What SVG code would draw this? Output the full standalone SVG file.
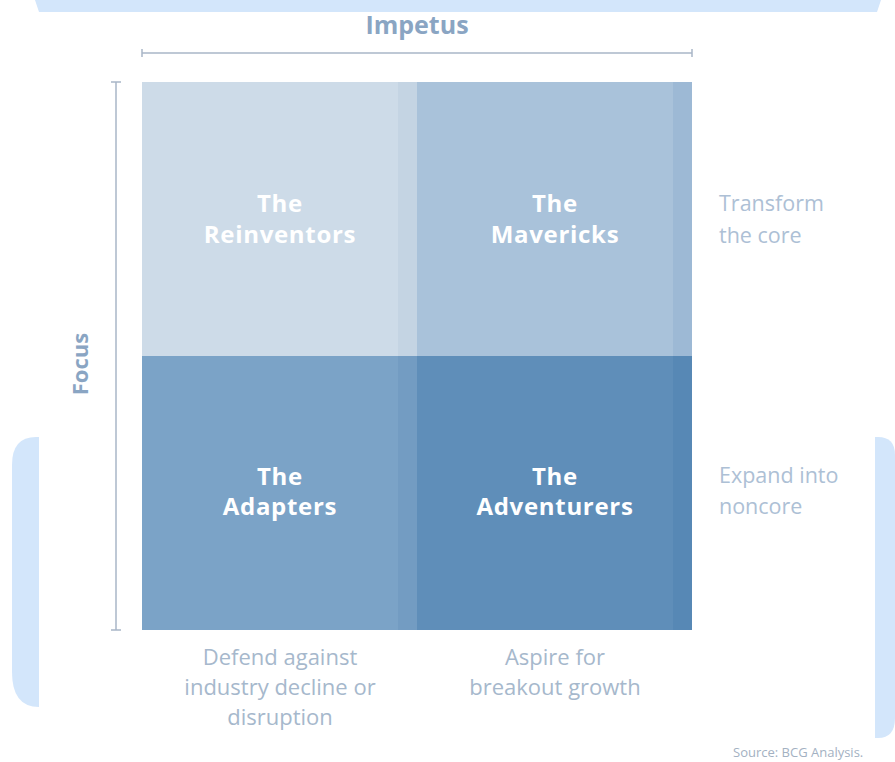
<svg xmlns="http://www.w3.org/2000/svg" width="895" height="762" viewBox="0 0 895 762">
  <style>
    .frame { fill: #d3e6fb; }
    .axis { stroke: #a9b6c7; stroke-width: 1.5; fill: none; }
    .axis-title { font-family: "Open Sans", "Liberation Sans", sans-serif; font-weight: 700; font-size: 24px; fill: #8aa5c3; text-anchor: middle; }
    .quad-label { font-family: "Open Sans", "Liberation Sans", sans-serif; font-weight: 700; font-size: 24px; letter-spacing: 0.7px; fill: #ffffff; text-anchor: middle; }
    .side { font-family: "Open Sans", "Liberation Sans", sans-serif; font-weight: 400; font-size: 21.5px; fill: #adc0d5; }
    .bottom { font-family: "Open Sans", "Liberation Sans", sans-serif; font-weight: 400; font-size: 22px; fill: #a6b8cc; text-anchor: middle; }
    .source { font-family: "Open Sans", "Liberation Sans", sans-serif; font-weight: 400; font-size: 13px; fill: #a3b1c2; }
  </style>

  <rect width="895" height="762" fill="#ffffff"/>

  <!-- light blue frame pieces -->
  <g id="frame">
    <polygon class="frame" points="35,0 881,0 877,12 39,12"/>
    <path class="frame" d="M39,437 H36 Q12,437 12,465 V672 Q12,707 39,707 Z"/>
    <path class="frame" d="M875,437 H878 Q895,437 895,455 V718 Q895,738 878,738 H875 Z"/>
  </g>

  <!-- axes -->
  <g id="connectors">
    <line class="axis" x1="142" y1="53" x2="692" y2="53"/>
    <line class="axis" x1="142" y1="49" x2="142" y2="57"/>
    <line class="axis" x1="692" y1="49" x2="692" y2="57"/>
    <line class="axis" x1="116" y1="82" x2="116" y2="630"/>
    <line class="axis" x1="111" y1="82" x2="121" y2="82"/>
    <line class="axis" x1="111" y1="630" x2="121" y2="630"/>
  </g>

  <g id="impetus-title">
    <text class="axis-title" x="417" y="34" style="font-size:25px">Impetus</text>
  </g>
  <g id="focus-title">
    <text class="axis-title" x="0" y="0" transform="translate(88,364) rotate(-90)" style="font-size:22px">Focus</text>
  </g>

  <!-- quadrants -->
  <g id="reinventors">
    <rect x="142" y="82" width="275" height="274" fill="#cddbe8"/>
    <rect x="398" y="82" width="19" height="274" fill="#c4d4e3"/>
    <text class="quad-label" x="280" y="212">The</text>
    <text class="quad-label" x="280" y="243">Reinventors</text>
  </g>
  <g id="mavericks">
    <rect x="417" y="82" width="275" height="274" fill="#a9c2da"/>
    <rect x="673" y="82" width="19" height="274" fill="#9db9d5"/>
    <text class="quad-label" x="555" y="212">The</text>
    <text class="quad-label" x="555" y="243">Mavericks</text>
  </g>
  <g id="adapters">
    <rect x="142" y="356" width="275" height="274" fill="#7ba3c7"/>
    <rect x="398" y="356" width="19" height="274" fill="#739cc2"/>
    <text class="quad-label" x="280" y="485">The</text>
    <text class="quad-label" x="280" y="515">Adapters</text>
  </g>
  <g id="adventurers">
    <rect x="417" y="356" width="275" height="274" fill="#5f8eb9"/>
    <rect x="673" y="356" width="19" height="274" fill="#5788b5"/>
    <text class="quad-label" x="555" y="485">The</text>
    <text class="quad-label" x="555" y="515">Adventurers</text>
  </g>

  <!-- row labels -->
  <g id="transform-core">
    <text class="side" x="719" y="211">Transform</text>
    <text class="side" x="719" y="243">the core</text>
  </g>
  <g id="expand-noncore">
    <text class="side" x="719" y="483">Expand into</text>
    <text class="side" x="719" y="514">noncore</text>
  </g>

  <!-- column labels -->
  <g id="defend">
    <text class="bottom" x="280" y="665">Defend against</text>
    <text class="bottom" x="280" y="695">industry decline or</text>
    <text class="bottom" x="280" y="725">disruption</text>
  </g>
  <g id="aspire">
    <text class="bottom" x="555" y="665">Aspire for</text>
    <text class="bottom" x="555" y="695">breakout growth</text>
  </g>

  <g id="source">
    <text class="source" x="733" y="757">Source: BCG Analysis.</text>
  </g>
</svg>
